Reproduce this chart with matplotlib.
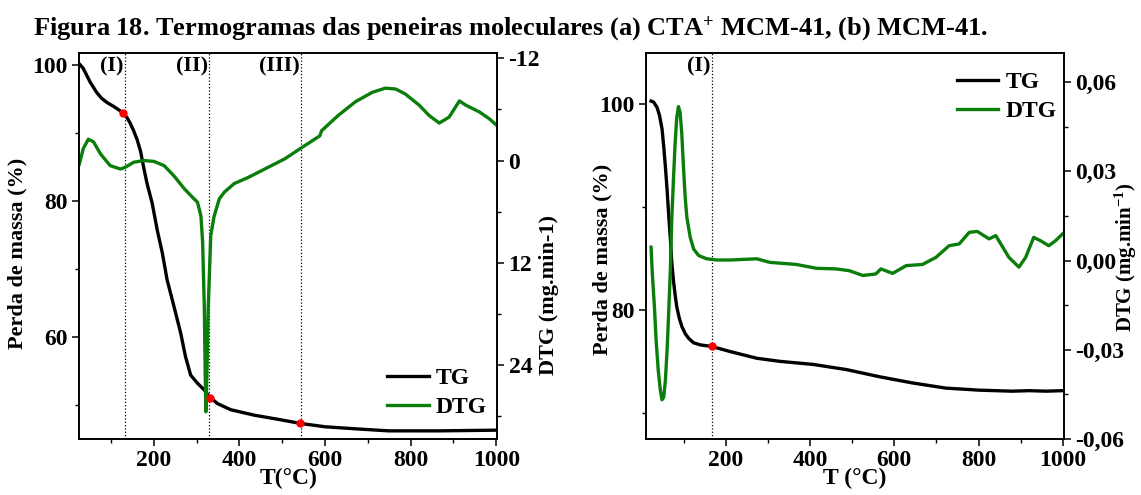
import matplotlib
matplotlib.use("Agg")
import matplotlib.pyplot as plt
from matplotlib.ticker import MultipleLocator, FuncFormatter

plt.rcParams["font.family"] = ["Liberation Serif", "DejaVu Serif"]
plt.rcParams["font.weight"] = "bold"
plt.rcParams["axes.labelweight"] = "bold"
plt.rcParams["mathtext.fontset"] = "custom"
plt.rcParams["mathtext.rm"] = "Liberation Serif:bold"
plt.rcParams["mathtext.bf"] = "Liberation Serif:bold"
plt.rcParams["mathtext.default"] = "bf"

# ---- (a) CTA+ MCM-41 ----
tg_a_T = [26, 35, 43, 51, 59, 67, 78, 90, 106, 118, 129, 137, 145, 153, 161, 169, 176, 184,
          196, 208, 220, 231, 247, 263, 274, 286, 302, 318, 325, 332, 349, 380, 435, 490,
          542, 600, 671, 749, 867, 1000]
tg_a = [100.15, 99.5, 98.5, 97.5, 96.7, 95.9, 95.1, 94.5, 93.9, 93.4, 92.9, 92.3, 91.4,
        90.3, 89.0, 87.3, 85.0, 82.6, 79.7, 75.7, 72.3, 68.4, 64.5, 60.5, 57.1, 54.4, 53.2,
        52.2, 51.6, 51.1, 50.2, 49.3, 48.5, 47.9, 47.3, 46.8, 46.5, 46.2, 46.2, 46.3]
dtg_a_T = [26, 35, 47, 59, 75, 98, 122, 133, 153, 177, 200, 224, 247, 271, 290, 302, 310,
           314, 318, 320, 321.6, 324, 327, 333, 341, 353, 365, 388, 420, 459, 506, 545, 588,
           592, 631, 671, 710, 741, 765, 788, 820, 843, 867, 890, 914, 929, 961, 984, 1002]
dtg_a = [0.4, -1.4, -2.5, -2.2, -0.8, 0.6, 1.0, 0.8, 0.2, 0.0, 0.1, 0.6, 1.8, 3.3, 4.3, 4.9,
         6.5, 9.6, 17.4, 25.2, 29.5, 25.2, 17.4, 8.8, 6.5, 4.5, 3.7, 2.7, 2.0, 1.0, -0.2, -1.5,
         -2.9, -3.5, -5.3, -6.9, -8.0, -8.5, -8.4, -7.8, -6.5, -5.3, -4.4, -5.1, -7.0, -6.5,
         -5.7, -4.9, -4.1]
marks_a_T = [129, 332, 542]
marks_a = [92.9, 51.1, 47.3]
steps_a_T = [132, 329, 544]
steps_a_lbl = ["(I)", "(II)", "(III)"]

# ---- (b) MCM-41 ----
tg_b_T = [22, 28, 36, 42, 48, 52, 56, 60, 64, 68, 71, 75, 79, 83, 89, 95, 103, 111, 123,
          139, 166, 210, 273, 328, 407, 486, 565, 643, 722, 801, 880, 920, 960, 1000]
tg_b = [100.3, 100.2, 99.7, 98.9, 97.6, 95.9, 93.9, 91.7, 89.1, 86.8, 84.7, 82.9, 81.5,
        80.3, 79.2, 78.4, 77.7, 77.25, 76.8, 76.6, 76.45, 75.95, 75.3, 75.0, 74.7, 74.2,
        73.5, 72.9, 72.4, 72.2, 72.1, 72.15, 72.1, 72.15]
dtg_b_T = [22, 25, 30, 34, 39, 44, 48, 52, 56, 60, 64, 68, 71, 75, 79, 83, 87, 91, 95, 99,
           103, 107, 115, 123, 135, 154, 178, 210, 273, 304, 367, 415, 462, 493, 525, 556,
           568, 596, 628, 667, 699, 730, 754, 778, 797, 825, 841, 872, 896, 912, 931, 947,
           967, 983, 1000]
dtg_b = [0.0045, -0.0045, -0.0157, -0.0269, -0.0369, -0.0436, -0.0468, -0.0459, -0.0403,
         -0.0302, -0.0168, -0.0022, 0.0134, 0.0269, 0.0392, 0.0481, 0.0518, 0.0498, 0.0425,
         0.0313, 0.0213, 0.0145, 0.0078, 0.0039, 0.0017, 0.0006, 0.0002, 0.0002, 0.0006,
         -0.0006, -0.0013, -0.0026, -0.0028, -0.0034, -0.005, -0.0045, -0.0028, -0.0043,
         -0.0017, -0.0013, 0.0011, 0.005, 0.0056, 0.0095, 0.0098, 0.0073, 0.0084, 0.0011,
         -0.0022, 0.0011, 0.0078, 0.0067, 0.005, 0.0067, 0.009]
marks_b_T = [166]
marks_b = [76.5]
steps_b_T = [166]
steps_b_lbl = ["(I)"]

TITLE = "Figura 18. Termogramas das peneiras moleculares (a) CTA$^{+}$ MCM-41, (b) MCM-41."
GREEN = "#0a7d0a"
FS = 17


def style_axis(ax):
    ax.tick_params(which="major", direction="out", length=5, width=1.1, labelsize=FS, pad=3)
    ax.tick_params(which="minor", direction="out", length=3, width=1.0)
    for sp in ax.spines.values():
        sp.set_linewidth(1.2)


def panel(ax, tg_T, tg, dtg_T, dtg, mk_T, mk, st_T, st_lbl, ylim, dlim, dmaj, dmin, dfmt,
          xlab, xmin, leg_loc, leg_anchor):
    ax2 = ax.twinx()
    for t, lbl in zip(st_T, st_lbl):
        ax.axvline(t, color="black", ls=":", lw=0.9, zorder=1)
        ax.text(t - 3, 0.965, lbl, transform=ax.get_xaxis_transform(), ha="right",
                va="center", fontsize=16)
    l1, = ax.plot(tg_T, tg, color="black", lw=2.4, label="TG")
    l2, = ax2.plot(dtg_T, dtg, color=GREEN, lw=2.4, label="DTG")
    ax2.plot(mk_T, mk, "o", color="red", ms=5, zorder=5, transform=ax.transData)
    ax.set_xlim(xmin, 1003)
    ax.set_ylim(*ylim)
    ax2.set_ylim(*dlim)
    ax.xaxis.set_major_locator(MultipleLocator(200))
    ax.xaxis.set_minor_locator(MultipleLocator(100))
    ax2.yaxis.set_major_locator(MultipleLocator(dmaj))
    ax2.yaxis.set_minor_locator(MultipleLocator(dmin))
    ax2.yaxis.set_major_formatter(FuncFormatter(dfmt))
    ax.set_xlabel(xlab, fontsize=FS, labelpad=-2)
    style_axis(ax)
    style_axis(ax2)
    ax2.legend(handles=[l1, l2], loc=leg_loc, bbox_to_anchor=leg_anchor, frameon=False,
               fontsize=FS, handlelength=1.75, handletextpad=0.3, labelspacing=0.3,
               borderaxespad=0.0)
    return ax2


fig = plt.figure(figsize=(11.41, 4.95), dpi=100)
fig.text(0.029, 0.93, TITLE, fontsize=19, ha="left", va="baseline")

axa = fig.add_axes([0.0692, 0.1131, 0.3668, 0.7804])
axa2 = panel(axa, tg_a_T, tg_a, dtg_a_T, dtg_a, marks_a_T, marks_a, steps_a_T, steps_a_lbl,
             (45.0, 101.8), (32.7, -12.66), 12, 6, lambda v, p: f"{v:.0f}", "T(°C)", 25,
             "lower right", (0.997, 0.03))
axa.yaxis.set_major_locator(MultipleLocator(20))
axa.yaxis.set_minor_locator(MultipleLocator(10))
axa.set_ylabel("Perda de massa (%)", fontsize=16)
axa.yaxis.set_label_coords(-0.122, 0.48)
axa2.set_ylabel("DTG (mg.min-1)", fontsize=16)
axa2.yaxis.set_label_coords(1.10, 0.373)

axb = fig.add_axes([0.5662, 0.1131, 0.3663, 0.7804])
axb2 = panel(axb, tg_b_T, tg_b, dtg_b_T, dtg_b, marks_b_T, marks_b, steps_b_T, steps_b_lbl,
             (67.45, 105.0), (-0.06, 0.0699), 0.03, 0.015,
             lambda v, p: f"{v:.2f}".replace(".", ",").replace("-0,00", "0,00"), "T (°C)", 10,
             "upper right", (1.004, 0.975))
axb.yaxis.set_major_locator(MultipleLocator(20))
axb.yaxis.set_minor_locator(MultipleLocator(10))
axb.set_ylabel("Perda de massa (%)", fontsize=16)
axb.yaxis.set_label_coords(-0.081, 0.464)
axb2.set_ylabel("DTG (mg.min$^{-1}$)", fontsize=15)
axb2.yaxis.set_label_coords(1.116, 0.47)

fig.savefig("out.png", dpi=100)
